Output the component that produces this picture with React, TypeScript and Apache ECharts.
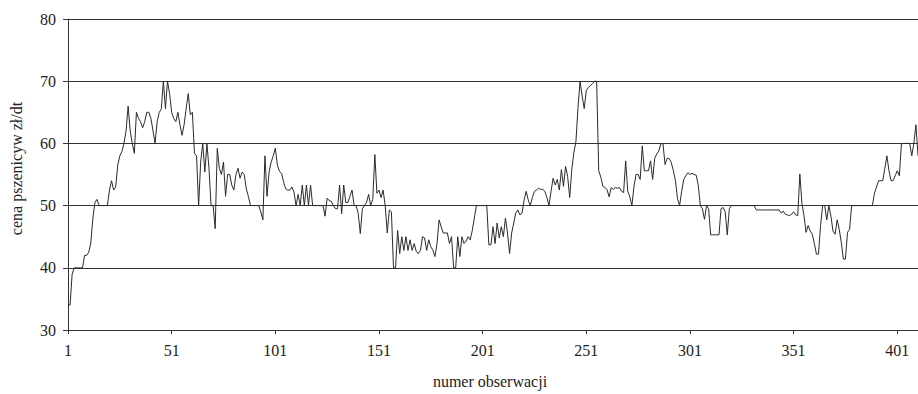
import React, { useEffect, useRef } from "react";
import * as echarts from "echarts";

// Observed wheat prices (zł/dt), observations 1..411, in blocks of 50
const obs001to050 = [
  34, 34, 39, 40, 40, 40, 40, 40, 42, 42,
  42.5, 44, 48, 50.5, 51, 50, 50, 50, 50, 50,
  52.5, 54, 52.5, 53, 56.5, 58, 58.7, 60, 62, 66,
  62, 60, 58.4, 65, 64, 63.5, 62.5, 63.5, 65, 65,
  64, 62, 60, 63.5, 65, 65.5, 70, 65.6, 70, 68,
];
const obs051to100 = [
  65, 64, 63.5, 65, 63, 61.3, 63, 65.6, 68, 64.6,
  65, 58.4, 58, 50, 57, 60, 55.4, 60, 56, 50,
  50, 46.3, 59.2, 56, 55, 57, 51.5, 55, 55, 53.3,
  52.5, 55, 56, 54.4, 55.4, 55, 52.7, 51.5, 50, 50,
  50, 50, 50, 49, 47.7, 58, 51.5, 55.4, 57, 58,
];
const obs101to150 = [
  59.2, 56.5, 55.5, 55.2, 53.8, 52.7, 52.5, 52.5, 53, 52.2,
  50, 51.8, 50, 53.3, 50, 53.3, 50, 53.3, 50, 50,
  50, 50, 50, 50, 48.3, 51.2, 50.8, 50.7, 50, 49.5,
  49.5, 53.3, 48.7, 53.3, 50.5, 50.5, 51.5, 52.5, 50, 50,
  48.7, 45.5, 49.5, 50, 50.5, 51.8, 50, 51, 58.2, 52,
];
const obs151to200 = [
  52.5, 51.3, 52.5, 50, 45.6, 49.3, 49, 40, 40, 46,
  42.3, 45, 42.8, 45, 42.8, 44.5, 42.8, 43.9, 42.6, 42.3,
  42.8, 45, 44.8, 42.8, 44.5, 43.4, 42.8, 41.8, 43.9, 47.7,
  46.6, 45.6, 45.6, 45.6, 43.9, 45, 40, 40, 45, 41.8,
  45, 43.9, 44.3, 45, 44.5, 46, 48, 50, 50, 50,
];
const obs201to250 = [
  50, 50, 50, 43.7, 43.7, 46.6, 43.9, 47.2, 44.8, 46.6,
  45, 48, 45.6, 42.3, 45.6, 47.2, 48.8, 49.3, 48.5, 48.8,
  50.9, 52.3, 50.9, 50, 51.3, 52.3, 52.5, 52.8, 52.6, 52.6,
  52.3, 51.3, 50, 52.3, 54.4, 53.3, 54.2, 52.5, 55.8, 53.1,
  56.3, 54.7, 51.3, 55.8, 58.5, 60.3, 65.8, 70, 67.6, 65.6,
];
const obs251to300 = [
  68.5, 69, 69.3, 69.6, 70, 70, 55.6, 54.6, 53.1, 52.9,
  52.6, 51.4, 52.9, 52.6, 52.9, 52.8, 52.9, 52.3, 52.1, 57.2,
  52.3, 51.4, 50, 53.1, 55, 55, 54.2, 59.6, 55.6, 55.6,
  55.6, 57.2, 54.2, 57.6, 58.3, 58.8, 60, 59.9, 56.6, 57.6,
  57.6, 56.9, 55.6, 54, 51.1, 50, 52.3, 54.2, 54.8, 55.3,
];
const obs301to350 = [
  55, 55.2, 55, 54.9, 53.3, 50, 49.5, 47.8, 50, 49.5,
  45.3, 45.3, 45.3, 45.3, 45.3, 49.5, 49.7, 49, 45.3, 49.5,
  50, 50, 50, 50, 50, 50, 50, 50, 50, 50,
  50, 50, 49.3, 49.3, 49.3, 49.3, 49.3, 49.3, 49.3, 49.3,
  49.3, 49.3, 49.3, 49.3, 48.8, 49.1, 48.6, 48.5, 48.4, 48.6,
];
const obs351to400 = [
  49, 48.5, 48.4, 55.1, 50.4, 48.4, 45.7, 46.8, 45.9, 45.4,
  43.9, 42.2, 42.2, 46.8, 50, 50, 47.7, 50, 48.3, 45.9,
  45.4, 47.7, 46.2, 44.1, 41.4, 41.4, 45.7, 46.2, 50, 50,
  50, 50, 50, 50, 50, 50, 50, 50, 50, 52,
  53, 54, 54, 54, 56, 58, 55.6, 54, 54, 54.8,
];
const obs401to411 = [55.6, 54.8, 59.9, 60, 60, 60, 60, 58, 60, 63, 58];

const prices = [
  ...obs001to050, ...obs051to100, ...obs101to150, ...obs151to200,
  ...obs201to250, ...obs251to300, ...obs301to350, ...obs351to400, ...obs401to411,
];
const categories = prices.map((_, i) => String(i + 1));

const yTicks = { min: 30, max: 80, step: 10 };
const xLabelStep = 50;

const FONT = "'Liberation Serif', 'DejaVu Serif', serif";
const TEXT = "#222";
const LINE = "#333";

export default function App() {
  const ref = useRef<HTMLDivElement>(null);
  useEffect(() => {
    if (!ref.current) return;
    const chart = echarts.init(ref.current, null, { renderer: "svg" });
    chart.setOption({
      animation: false,
      backgroundColor: "#fff",
      grid: { left: 68, right: 0, top: 19, bottom: 63, containLabel: false },
      xAxis: {
        type: "category",
        data: categories,
        boundaryGap: false,
        name: "numer obserwacji",
        nameLocation: "middle",
        nameGap: 43,
        nameTextStyle: { fontFamily: FONT, fontSize: 16, color: TEXT, padding: [0, 6, 0, 0] },
        axisLine: { lineStyle: { color: LINE, width: 1 } },
        axisTick: { show: true, interval: xLabelStep - 1, length: 4, lineStyle: { color: LINE } },
        axisLabel: {
          interval: xLabelStep - 1,
          margin: 12,
          fontFamily: FONT,
          fontSize: 16,
          color: TEXT,
        },
        splitLine: { show: false },
      },
      yAxis: {
        type: "value",
        min: yTicks.min,
        max: yTicks.max,
        interval: yTicks.step,
        name: "cena pszenicyw zł/dt",
        nameLocation: "middle",
        nameGap: 44,
        nameTextStyle: { fontFamily: FONT, fontSize: 16, color: TEXT, padding: [0, 0, 0, 12] },
        axisLine: { show: true, lineStyle: { color: LINE, width: 1 } },
        axisTick: { show: true, length: 5, lineStyle: { color: LINE } },
        axisLabel: { margin: 12, fontFamily: FONT, fontSize: 16, color: TEXT },
        splitLine: { show: true, lineStyle: { color: LINE, width: 1 } },
      },
      series: [
        {
          type: "line",
          data: prices,
          showSymbol: false,
          symbol: "none",
          lineStyle: { color: "#2a2a2a", width: 1 },
        },
      ],
    });
    return () => chart.dispose();
  }, []);
  return (
    <div
      ref={ref}
      style={{ position: "fixed", left: 0, top: 0, width: 918, height: 394, background: "#fff" }}
    />
  );
}
